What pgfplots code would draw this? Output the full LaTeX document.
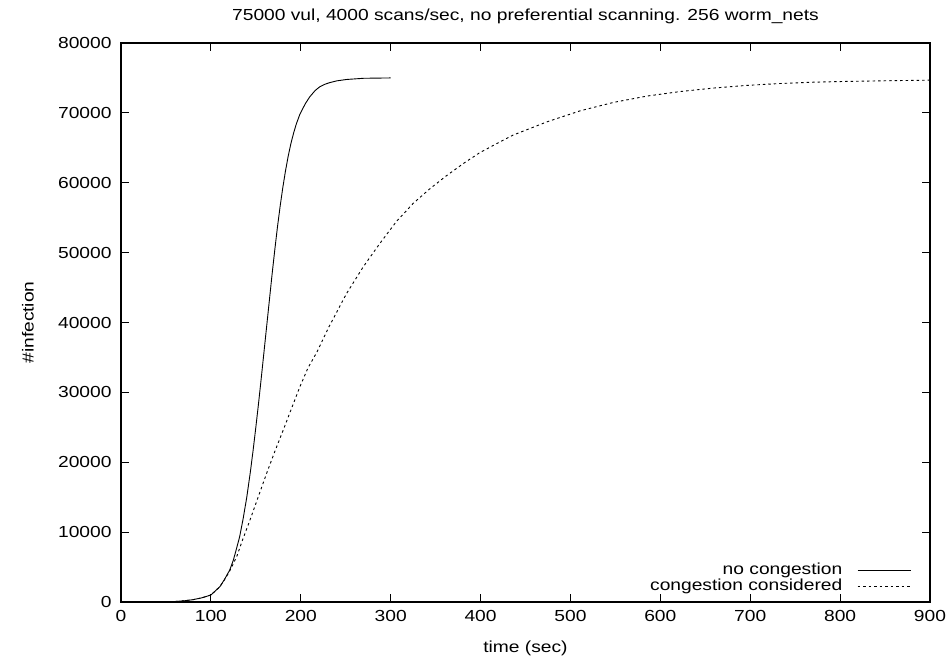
\documentclass[border=0pt]{standalone}
\usepackage{pgfplots}
\pgfplotsset{compat=1.18}
\usepackage{fontspec}
\setmainfont{Liberation Sans}[FakeStretch=1.2]
\begin{document}
\fontsize{16bp}{19bp}\selectfont
\begin{tikzpicture}
\useasboundingbox (0,0) rectangle (951bp,662bp);
\begin{axis}[
  at={(121bp,60bp)}, anchor=south west,
  width=809bp, height=559bp, scale only axis,
  xmin=0, xmax=900, ymin=0, ymax=80000,
  xtick={0,100,...,900}, ytick={0,10000,...,80000},
  scaled y ticks=false,
  /pgf/number format/1000 sep={},
  /pgf/number format/assume math mode=true,
  tick align=inside, major tick length=8bp,
  axis line style={line width=1.1bp},
  every tick/.style={black, line width=0.9bp},
  xticklabel style={yshift=-3bp},
  yticklabel style={xshift=-4bp},
  every axis title shift=0pt,
  title={75000 vul, 4000 scans/sec, no preferential scanning. 256 worm\_nets},
  title style={at={(axis description cs:0.5,1.048)}, anchor=center},
  xlabel={time (sec)},
  xlabel style={at={(axis description cs:0.5,-0.0823)}, anchor=center},
  ylabel={\#infection},
  ylabel style={at={(axis description cs:-0.115,0.5)}, anchor=center},
  legend cell align=right,
  legend plot pos=right,
  legend style={draw=none, fill=none, at={(axis description cs:0.977,0.073)}, anchor=north east, row sep=-2bp, inner sep=0pt},
  legend image code/.code={\path (0bp,0bp); \draw[#1] (13bp,0bp) -- (66bp,0bp);},
]
\addplot[black, line width=0.9bp] coordinates {
(0,0) (20,0) (40,5) (50,30) (60,70) (70,170) (80,330) (90,600) (100,1000)
(110,2190) (115,3200) (121,4580) (125,6000) (128,7400) (132,9340) (136,12000)
(140,15060) (144,18700) (147,21740) (150,25000) (153,28400) (156,32000)
(159,35700) (162,39400) (165,43100) (168,46800) (171,50300) (174,53600)
(177,56600) (180,59300) (183,61700) (186,63800) (189,65600) (192,67100)
(195,68400) (199,69800) (205,71300) (210,72300) (216,73200) (221,73720)
(227,74100) (232,74320) (240,74580) (251,74780) (270,74950) (300,75000)
};
\addlegendentry{no congestion}
\addplot[black, line width=0.9bp, dash pattern=on 2.5bp off 3bp] coordinates {
(0,0) (20,0) (40,5) (50,30) (60,70) (70,170) (80,330) (90,600) (100,1000)
(110,2190) (115,3150) (121,4450) (128.7,6480) (135,8800) (143.5,11730)
(152,14800) (162,18410) (171,21500) (180.5,24610) (190,27800) (199,30800)
(208,33500) (217.7,35700) (231,39300) (251,44160) (269.5,47970) (288,51320)
(306.7,54500) (325,57040) (344,59180) (362,61000) (381,62760) (399,64300)
(418,65600) (436,66810) (474,68720) (511,70300) (548,71500) (585,72400)
(622,73050) (659,73550) (696,73930) (733,74200) (770,74390) (807,74500)
(844,74580) (870,74630) (900,74680)
};
\addlegendentry{congestion considered}
\end{axis}
\end{tikzpicture}
\end{document}
